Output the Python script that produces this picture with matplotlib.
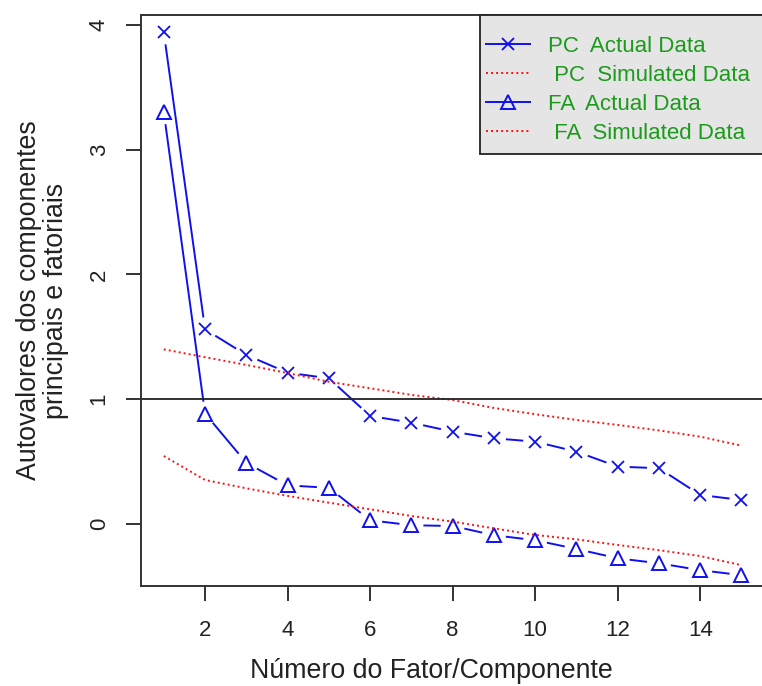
import numpy as np
import matplotlib
matplotlib.use("Agg")
import matplotlib.pyplot as plt
from matplotlib.lines import Line2D
from matplotlib.patches import Rectangle

plt.rcParams['font.family'] = ['Liberation Sans', 'DejaVu Sans']

factors = list(range(1, 16))
pc_actual = [3.94, 1.56, 1.355, 1.213, 1.168, 0.866, 0.812, 0.74, 0.687, 0.66, 0.58, 0.46, 0.447, 0.233, 0.192]
pc_sim = [1.40, 1.337, 1.275, 1.21, 1.14, 1.088, 1.035, 0.994, 0.93, 0.88, 0.834, 0.794, 0.75, 0.70, 0.628]
fa_actual = [3.30, 0.885, 0.49, 0.31, 0.29, 0.03, -0.01, -0.016, -0.09, -0.13, -0.20, -0.275, -0.315, -0.37, -0.41]
fa_sim = [0.545, 0.353, 0.286, 0.225, 0.171, 0.118, 0.064, 0.019, -0.035, -0.088, -0.123, -0.168, -0.21, -0.257, -0.33]
x_ticks = [2, 4, 6, 8, 10, 12, 14]
y_ticks = [0, 1, 2, 3, 4]
legend_labels = ["PC  Actual Data", " PC  Simulated Data", "FA  Actual Data", " FA  Simulated Data"]
x_label = 'Número do Fator/Componente'
y_label = 'Autovalores dos componentes\nprincipais e fatoriais'

W, H = 762, 686
fig = plt.figure(figsize=(W / 100, H / 100), dpi=100)
left, right, top, bottom = 140.7, 764.6, 15, 586
aw, ah = right - left, bottom - top
ax = fig.add_axes([left / W, 1 - bottom / H, aw / W, ah / H])
ax.set_xlim(0.44, 15.56)
ax.set_ylim(-0.497, 4.08)

BLUE = '#1010EE'
RED = '#FF1010'
DOT = (0, (1, 1.6))
TXT = '#222222'


def gapped_line(xs, ys, gap_px, **kw):
    pts = ax.transData.transform(np.column_stack([xs, ys]))
    inv = ax.transData.inverted()
    for i in range(len(pts) - 1):
        p0, p1 = pts[i], pts[i + 1]
        d = p1 - p0
        L = np.hypot(*d)
        if L <= 2 * gap_px:
            continue
        u = d / L
        a = inv.transform(p0 + u * gap_px)
        b = inv.transform(p1 - u * gap_px)
        ax.plot([a[0], b[0]], [a[1], b[1]], **kw)


gapped_line(factors, pc_actual, 12, color=BLUE, lw=1.4, solid_capstyle='butt')
ax.plot(factors, pc_actual, linestyle='none', marker='x', ms=8.5, mew=1.3, color=BLUE)
ax.plot(factors, pc_sim, color=RED, linestyle=DOT, lw=1.4)
gapped_line(factors, fa_actual, 12, color=BLUE, lw=1.4, solid_capstyle='butt')
ax.plot(factors, fa_actual, linestyle='none', marker='^', ms=10.5, mew=1.4,
        markerfacecolor='none', markeredgecolor=BLUE)
ax.plot(factors, fa_sim, color=RED, linestyle=DOT, lw=1.4)
ax.axhline(1, color=TXT, lw=1.3)

ax.set_xticks(x_ticks)
ax.set_yticks(y_ticks)
ax.set_xticklabels([str(t) for t in x_ticks])
ax.set_yticklabels([str(t) for t in y_ticks], rotation=90, va='center')
ax.tick_params(axis='both', direction='out', length=10.8, width=1.3, labelsize=16,
               colors=TXT)
ax.tick_params(axis='x', pad=14)
ax.tick_params(axis='y', pad=11.5)
for s in ax.spines.values():
    s.set_linewidth(1.4)
    s.set_color('#333333')

fig.text(431 / W, (H - 678) / H, x_label, fontsize=19.3, color=TXT,
         ha='center', va='baseline')
ax.set_ylabel(y_label, fontsize=19.3, color=TXT, labelpad=14, linespacing=1.08)

# legend box (gray90 background, black border)
box_left, box_bottom = 480, 154
ax.add_patch(Rectangle(((box_left - left) / aw, (bottom - box_bottom) / ah),
                       1.0 - (box_left - left) / aw + 0.01, (box_bottom - top) / ah,
                       transform=ax.transAxes, facecolor='#E5E5E5', edgecolor=TXT,
                       linewidth=1.3, zorder=4, clip_on=False))

handles = [
    Line2D([], [], color=BLUE, lw=1.4, marker='x', ms=8.5, mew=1.3),
    Line2D([], [], color=RED, lw=1.4, linestyle=DOT),
    Line2D([], [], color=BLUE, lw=1.4, marker='^', ms=10.5, mew=1.4, markerfacecolor='none'),
    Line2D([], [], color=RED, lw=1.4, linestyle=DOT),
]
leg = ax.legend(handles, legend_labels, loc='upper right',
                bbox_to_anchor=(1.0 + 1 / aw, 1.0 - 5 / ah),
                borderaxespad=0, frameon=False, fontsize=16, labelspacing=0.36,
                handlelength=2.0, handletextpad=0.8, borderpad=0.7,
                labelcolor='#1c9a1c')
leg.set_zorder(5)

fig.savefig('out.png', dpi=100)
